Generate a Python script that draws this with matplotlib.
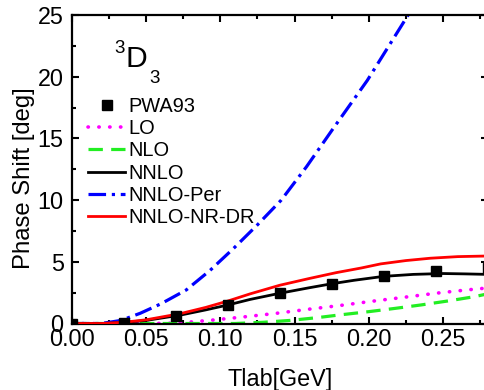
import matplotlib
matplotlib.use('Agg')
import matplotlib.pyplot as plt
from matplotlib.ticker import MultipleLocator, FormatStrFormatter

plt.rcParams['font.family'] = ['Liberation Sans', 'DejaVu Sans']

# PWA93 data points
pwa_t = [0.0, 0.035, 0.07, 0.105, 0.14, 0.175, 0.21, 0.245, 0.28]
pwa_val = [0.0, 0.07, 0.62, 1.5, 2.45, 3.22, 3.85, 4.28, 4.5]

# LO (magenta dotted)
lo_t = [0.0, 0.05, 0.065, 0.074, 0.095, 0.117, 0.138, 0.159, 0.18, 0.202, 0.2235, 0.245, 0.266, 0.28]
lo_val = [0.0, 0.0, 0.02, 0.06, 0.28, 0.55, 0.83, 1.15, 1.45, 1.8, 2.12, 2.45, 2.72, 2.88]

# NLO (green dashed)
nlo_t = [0.0, 0.11, 0.129, 0.147, 0.165, 0.18, 0.2, 0.218, 0.235, 0.253, 0.271, 0.28]
nlo_val = [0.0, 0.0, 0.1, 0.25, 0.47, 0.69, 0.96, 1.23, 1.5, 1.82, 2.17, 2.4]

# NNLO (black solid)
nnlo_t = [0.0, 0.02, 0.035, 0.05, 0.073, 0.09, 0.105, 0.12, 0.14, 0.16, 0.175, 0.19, 0.21, 0.23, 0.25, 0.265, 0.28]
nnlo_val = [0.0, 0.0, 0.08, 0.25, 0.68, 1.1, 1.5, 1.95, 2.45, 2.9, 3.22, 3.5, 3.82, 3.98, 4.05, 4.02, 3.98]

# NNLO-Per (blue dash-dot)
per_t = [0.0, 0.02, 0.033, 0.046, 0.06, 0.077, 0.093, 0.109, 0.125, 0.141, 0.158, 0.176, 0.199, 0.226, 0.245, 0.28]
per_val = [0.0, 0.0, 0.25, 0.83, 1.6, 2.72, 4.3, 6.1, 8.0, 10.0, 12.7, 15.8, 19.7, 24.9, 28.5, 35.0]

# NNLO-NR-DR (red solid)
nr_t = [0.0, 0.02, 0.035, 0.05, 0.073, 0.09, 0.105, 0.12, 0.14, 0.16, 0.178, 0.195, 0.208, 0.225, 0.2415, 0.26, 0.28]
nr_val = [0.0, 0.0, 0.1, 0.3, 0.8, 1.3, 1.82, 2.4, 3.1, 3.65, 4.12, 4.5, 4.83, 5.1, 5.29, 5.42, 5.47]

W, H = 484, 390
fig = plt.figure(figsize=(W / 100, H / 100), dpi=100)
ax = fig.add_axes([72 / W, (H - 323.5) / H, 415.5 / W, 308.5 / H])

ax.plot(lo_t, lo_val, color='#ff00ff', lw=2.6, linestyle=(0, (0.1, 2.9)),
        dash_capstyle='round', label='LO', zorder=2)
ax.plot(nlo_t, nlo_val, color='#22ee22', lw=2.3, linestyle=(0, (4.5, 2.6)),
        label='NLO', zorder=2)
ax.plot(nnlo_t, nnlo_val, color='black', lw=2.0, label='NNLO', zorder=3)
ax.plot(per_t, per_val, color='#0000ff', lw=2.3, linestyle=(0, (5.5, 1.8, 1.0, 1.8)),
        label='NNLO-Per', zorder=2)
ax.plot(nr_t, nr_val, color='#ff0000', lw=2.0, label='NNLO-NR-DR', zorder=3)
ax.plot(pwa_t, pwa_val, 's', color='black', ms=7.5, linestyle='none',
        label='PWA93', zorder=4)

ax.set_xlim(0, 0.28)
ax.set_ylim(0, 25)
ax.xaxis.set_major_locator(MultipleLocator(0.05))
ax.xaxis.set_minor_locator(MultipleLocator(0.025))
ax.yaxis.set_major_locator(MultipleLocator(5))
ax.yaxis.set_minor_locator(MultipleLocator(2.5))
ax.xaxis.set_major_formatter(FormatStrFormatter('%.2f'))

ax.tick_params(which='both', direction='in', top=True, right=True, width=1.5)
ax.tick_params(which='major', length=5, labelsize=16.8)
ax.tick_params(axis='x', which='major', pad=3)
ax.tick_params(axis='y', which='major', pad=6)
ax.tick_params(which='minor', length=3)
for s in ax.spines.values():
    s.set_linewidth(1.6)

ax.set_xlabel('Tlab[GeV]', fontsize=16.8)
ax.set_ylabel('Phase Shift [deg]', fontsize=17.2)
ax.xaxis.set_label_coords(0.5, -0.145)
ax.yaxis.set_label_coords(-0.088, 0.47)

handles, labels = ax.get_legend_handles_labels()
order = ['PWA93', 'LO', 'NLO', 'NNLO', 'NNLO-Per', 'NNLO-NR-DR']
hmap = dict(zip(labels, handles))
leg = ax.legend([hmap[k] for k in order], order, loc='upper left',
                bbox_to_anchor=(88 / W, 1 - 97 / H), bbox_transform=fig.transFigure,
                frameon=False, fontsize=14.4, handlelength=1.85, handletextpad=0.15,
                labelspacing=0.16, borderpad=0, borderaxespad=0, numpoints=1)

# channel label 3D3
fig.text(114 / W, 1 - 52.7 / H, '3', fontsize=13.5, ha='left', va='baseline')
fig.text(125.5 / W, 1 - 66.7 / H, 'D', fontsize=21.7, ha='left', va='baseline')
fig.text(149.5 / W, 1 - 83.3 / H, '3', fontsize=13.5, ha='left', va='baseline')

fig.savefig('out.png', dpi=100)
